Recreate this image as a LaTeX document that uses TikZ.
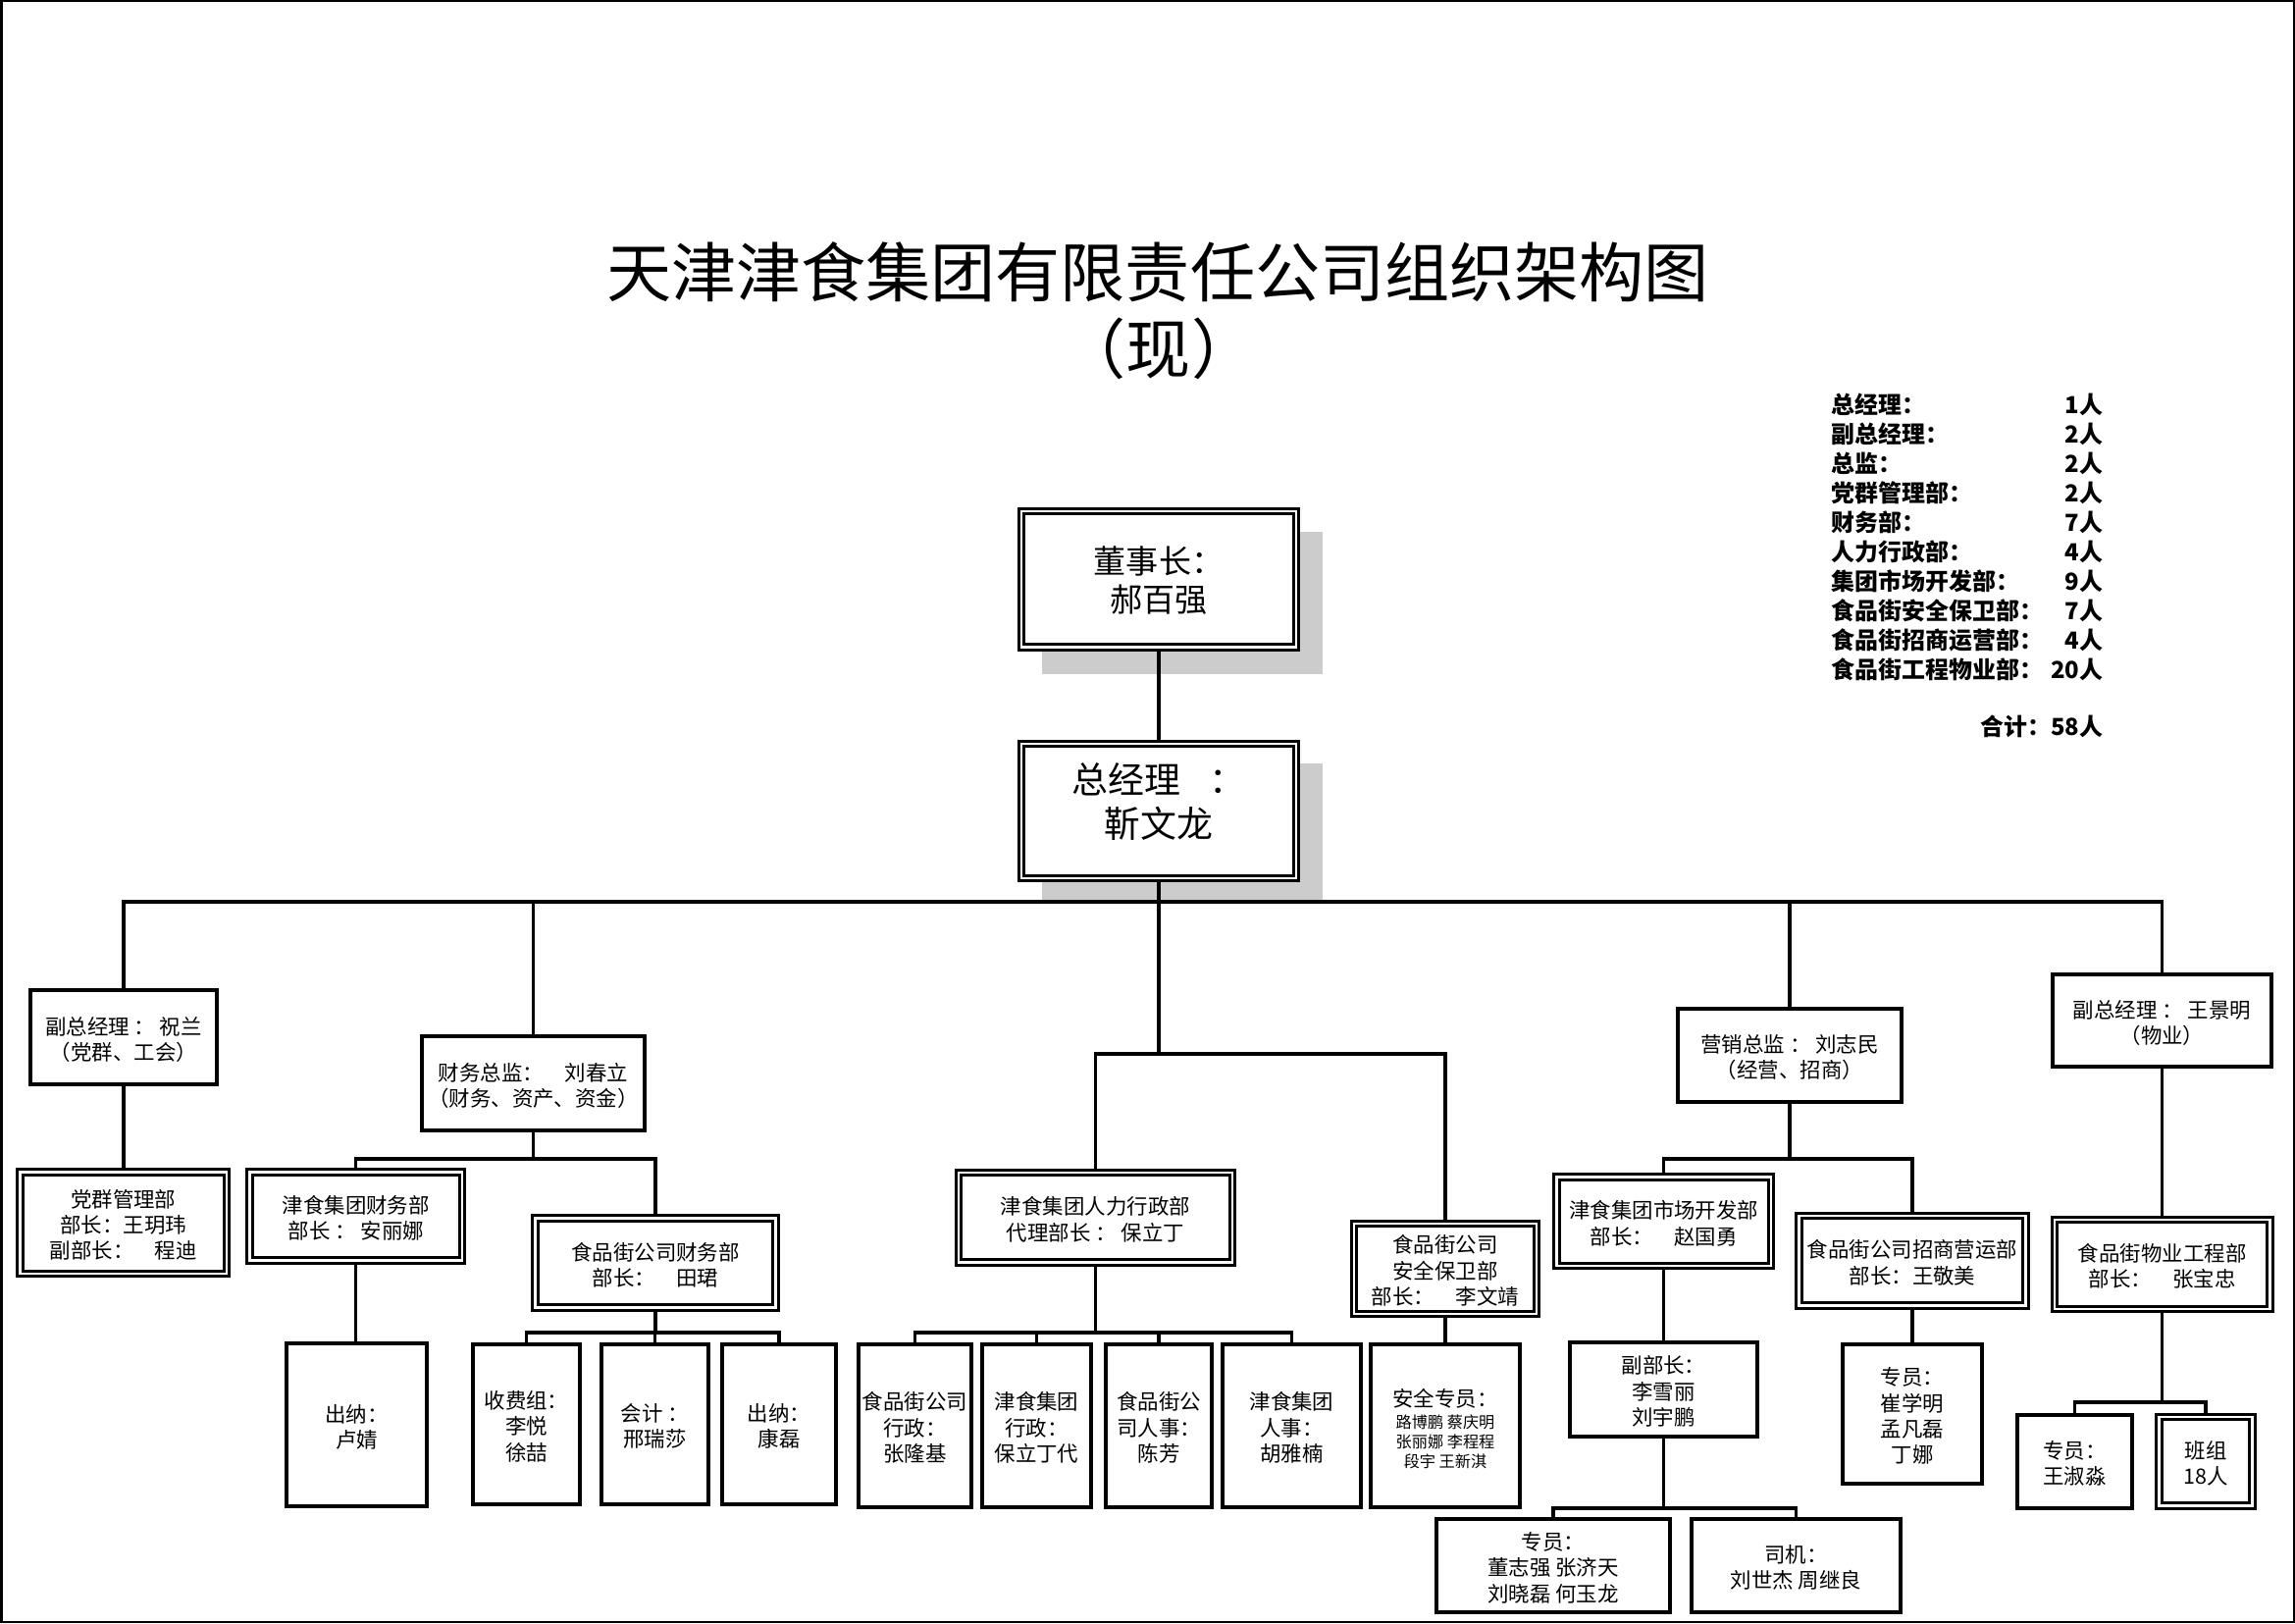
\documentclass[tikz,border=0pt]{standalone}
\usepackage{fontspec}
\setmainfont{Noto Sans CJK SC}
\usetikzlibrary{fit,backgrounds}
\definecolor{shadowgray}{RGB}{204,204,204}
\newcommand{\bxn}[8]{%
  \node[#2, fit={(#4,#5) (#6,#7)}] (#1) {};
  \node[#3] (#1-t) at (#1.center) {\begin{tabular}{@{}c@{}}#8\end{tabular}};}
\newcommand{\smalllines}[1]{{\fontsize{4.6}{5.7}\selectfont\begin{tabular}{@{}c@{}}#1\end{tabular}}}
\begin{document}
\begin{tikzpicture}[x=0.01cm,y=-0.01cm,
  conn/.style={line width=0.9pt},
  sbox/.style={draw, line width=0.9pt, fill=white, inner sep=0pt, outer sep=0pt},
  dbox/.style={sbox, double, double distance=0.6pt},
  tn/.style={inner sep=0pt, font=\fontsize{6.1}{7.5}\selectfont, yshift=-1.4pt},
  tbig/.style={inner sep=0pt, font=\fontsize{9.4}{10.8}\selectfont, yshift=-1.7pt},
  tgm/.style={inner sep=0pt, font=\fontsize{10.5}{12.8}\selectfont, yshift=1.2pt},
  titlefont/.style={font=\fontsize{18.8}{22}\selectfont, inner sep=0pt},
  stat/.style={font=\fontsize{6.8}{8}\selectfont\bfseries, inner sep=0pt},
]
\useasboundingbox (0,0) rectangle (2339,1654);
\draw[line width=0.7pt] (1,1) rectangle (2338,1653);
\draw[line width=0.6pt] (1.5,1) -- (1.5,1653);

% title
\node[titlefont] (title) at (1180,277) {天津津食集团有限责任公司组织架构图};
\node[titlefont] (subtitle) at (1181,355) {（现）};

% statistics
\foreach \lab/\num/\yy [count=\i] in {总经理：/1人/412, 副总经理：/2人/442, 总监：/2人/472, 党群管理部：/2人/502, 财务部：/7人/532, 人力行政部：/4人/562, 集团市场开发部：/9人/592, 食品街安全保卫部：/7人/622, 食品街招商运营部：/4人/652, 食品街工程物业部：/20人/682}{
  \node[stat, anchor=west] (sl\i) at (1866,\yy) {\lab};
  \node[stat, anchor=east] (sn\i) at (2144,\yy) {\num};
}
\node[stat, anchor=east] (total) at (2144,740) {合计：58人};

% top
\bxn{chair}{dbox}{tbig}{1041}{521}{1321}{659.5}{董事长：\\ 郝百强}
\bxn{gm}{dbox}{tgm}{1041}{758}{1321}{895}{总经理\hspace{0.8em}：\\ 靳文龙}

% left branch
\bxn{fz}{sbox}{tn}{31}{1009}{221}{1105}{副总经理 ： 祝兰\\（党群、工会）}
\bxn{dq}{dbox}{tn}{20.5}{1194.5}{231}{1298}{党群管理部\\部长：王玥玮\\副部长：\hspace{1em}程迪}

% finance
\bxn{cw}{sbox}{tn}{430}{1056}{657}{1152}{财务总监：\hspace{1em}刘春立\\（财务、资产、资金）}
\bxn{jcw}{dbox}{tn}{254.5}{1194.5}{471}{1284.5}{津食集团财务部\\部长 ： 安丽娜}
\bxn{scw}{dbox}{tn}{545.5}{1241.5}{790.5}{1332.5}{食品街公司财务部\\部长：\hspace{1em}田珺}
\bxn{cn1}{sbox}{tn}{292}{1369}{435}{1535}{出纳：\\ 卢婧}
\bxn{sfz}{sbox}{tn}{482}{1370}{591}{1533}{收费组：\\ 李悦\\ 徐喆}
\bxn{kj}{sbox}{tn}{613}{1370}{722}{1533}{会计 ：\\ 邢瑞莎}
\bxn{cn2}{sbox}{tn}{736}{1370}{852}{1533}{出纳：\\ 康磊}

% HR
\bxn{rl}{dbox}{tn}{977}{1195}{1256}{1286.5}{津食集团人力行政部\\代理部长 ： 保立丁}
\bxn{hra}{sbox}{tn}{875}{1370}{990}{1536}{食品街公司\\行政：\\张隆基}
\bxn{hrb}{sbox}{tn}{1001}{1370}{1112}{1536}{津食集团\\行政：\\保立丁代}
\bxn{hrc}{sbox}{tn}{1127}{1370}{1235}{1536}{食品街公\\司人事：\\陈芳}
\bxn{hrd}{sbox}{tn}{1246}{1370}{1387}{1536}{津食集团\\人事：\\胡雅楠}
\bxn{aq}{dbox}{tn}{1380}{1247}{1566}{1339}{食品街公司\\安全保卫部\\部长：\hspace{1em}李文靖}
\bxn{aqzy}{sbox}{tn}{1397}{1370}{1549}{1536}{安全专员：\\ \smalllines{路博鹏 蔡庆明\\张丽娜 李程程\\段宇 王新淇}}

% marketing
\bxn{yx}{sbox}{tn}{1710}{1028}{1938}{1123}{营销总监 ： 刘志民\\（经营、招商）}
\bxn{sc}{dbox}{tn}{1586.5}{1199.5}{1805}{1290}{津食集团市场开发部\\部长：\hspace{1em}赵国勇}
\bxn{zs}{dbox}{tn}{1833.5}{1239}{2064.5}{1330.5}{食品街公司招商营运部\\部长：王敬美}
\bxn{fbz}{sbox}{tn}{1600}{1368}{1791}{1464}{副部长：\\李雪丽\\刘宇鹏}
\bxn{zy1}{sbox}{tn}{1464}{1548}{1702}{1643}{专员：\\董志强 张济天\\刘晓磊 何玉龙}
\bxn{sj}{sbox}{tn}{1724}{1548}{1937}{1643}{司机：\\刘世杰 周继良}
\bxn{zy2}{sbox}{tn}{1878}{1370}{2020}{1512}{专员：\\崔学明\\孟凡磊\\丁娜}

% property
\bxn{fw}{sbox}{tn}{2092}{993}{2315}{1087}{副总经理 ： 王景明\\（物业）}
\bxn{wy}{dbox}{tn}{2094}{1243}{2313.5}{1334}{食品街物业工程部\\部长：\hspace{1em}张宝忠}
\bxn{zy3}{sbox}{tn}{2056}{1442}{2173}{1537}{专员：\\王淑淼}
\bxn{bz}{dbox}{tn}{2200.5}{1444}{2295.5}{1534.5}{班组\\18人}

% bus levels
\coordinate (yBus) at (0,919);
\coordinate (yHR) at (0,1074);
\coordinate (yFin) at (0,1181);
\coordinate (yFinSub) at (0,1358);
\coordinate (yHRSub) at (0,1358);
\coordinate (yMk) at (0,1181);
\coordinate (yMkSub) at (0,1537);
\coordinate (yWySub) at (0,1429);

\begin{pgfonlayer}{background}
\fill[shadowgray] (1062,542) rectangle (1348,687);
\fill[shadowgray] (1062,778) rectangle (1348,920);

\draw[conn] (chair.south) -- (gm.north);
\draw[conn] (fz.north) -- (fz.north |- yBus) -- (fw.north |- yBus) -- (fw.north);
\draw[conn] (cw.north) -- (cw.north |- yBus);
\draw[conn] (yx.north) -- (yx.north |- yBus);
\draw[conn] (gm.south) -- (gm.south |- yHR);
\draw[conn] (rl.north) -- (rl.north |- yHR) -- (aq.north |- yHR) -- (aq.north);

\draw[conn] (fz.south) -- (fz.south |- dq.north);

\draw[conn] (cw.south) -- (cw.south |- yFin);
\draw[conn] (jcw.north) -- (jcw.north |- yFin) -- (scw.north |- yFin) -- (scw.north);
\draw[conn] (jcw.south) -- (jcw.south |- cn1.north);
\draw[conn] (scw.south) -- (scw.south |- yFinSub);
\draw[conn] (sfz.north) -- (sfz.north |- yFinSub) -- (cn2.north |- yFinSub) -- (cn2.north);
\draw[conn] (kj.north) -- (kj.north |- yFinSub);

\draw[conn] (rl.south) -- (rl.south |- yHRSub);
\draw[conn] (hra.north) -- (hra.north |- yHRSub) -- (hrd.north |- yHRSub) -- (hrd.north);
\draw[conn] (hrb.north) -- (hrb.north |- yHRSub);
\draw[conn] (hrc.north) -- (hrc.north |- yHRSub);
\draw[conn] (aq.south) -- (aq.south |- aqzy.north);

\draw[conn] (yx.south) -- (yx.south |- yMk);
\draw[conn] (sc.north) -- (sc.north |- yMk) -- (zs.north |- yMk) -- (zs.north);
\draw[conn] (sc.south) -- (sc.south |- fbz.north);
\draw[conn] (fbz.south) -- (fbz.south |- yMkSub);
\draw[conn] (zy1.north) -- (zy1.north |- yMkSub) -- (sj.north |- yMkSub) -- (sj.north);
\draw[conn] (zs.south) -- (zs.south |- zy2.north);

\draw[conn] (fw.south) -- (fw.south |- wy.north);
\draw[conn] (wy.south) -- (wy.south |- yWySub);
\draw[conn] (zy3.north) -- (zy3.north |- yWySub) -- (bz.north |- yWySub) -- (bz.north);
\end{pgfonlayer}
\end{tikzpicture}
\end{document}
